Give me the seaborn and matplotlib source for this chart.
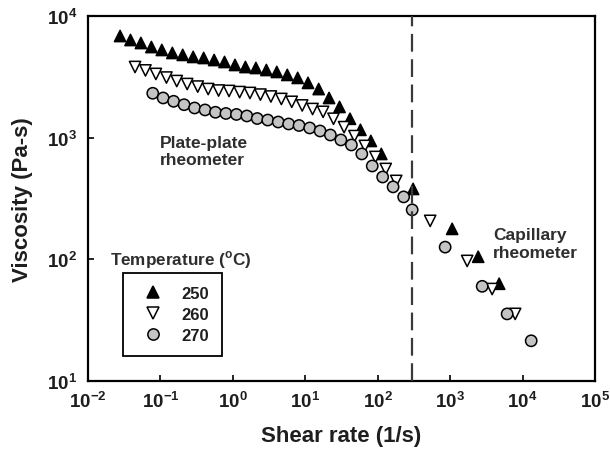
import pandas as pd
import matplotlib
matplotlib.use("Agg")
import matplotlib.pyplot as plt
import seaborn as sns

# shear rate (1/s) and viscosity (Pa-s), plate-plate points then capillary points
rate_250 = [0.0277, 0.0386, 0.0537, 0.0750, 0.1045, 0.146, 0.203, 0.283, 0.395, 0.551,
            0.767, 1.07, 1.49, 2.08, 2.90, 4.04, 5.64, 7.85, 10.9, 15.3,
            21.3, 29.7, 41.4, 57.7, 80.4, 112,
            308, 1066, 2440, 4750]
visc_250 = [6850, 6350, 6000, 5560, 5260, 4970, 4790, 4610, 4520, 4350,
            4190, 3960, 3810, 3740, 3600, 3470, 3280, 3100, 2820, 2510,
            2120, 1790, 1430, 1160, 940, 735,
            379, 178, 105, 63]

rate_260 = [0.0446, 0.0621, 0.0865, 0.121, 0.168, 0.234, 0.327, 0.456, 0.635, 0.885,
            1.24, 1.72, 2.40, 3.35, 4.67, 6.50, 9.06, 12.6, 17.6, 24.5,
            34.3, 47.7, 66.5, 92.9, 129, 180,
            530, 1718, 3800, 7900]
visc_260 = [3810, 3570, 3340, 3120, 2920, 2760, 2630, 2510, 2440, 2420,
            2370, 2330, 2260, 2180, 2080, 1970, 1840, 1720, 1630, 1430,
            1220, 1030, 855, 694, 553, 441,
            207, 97, 57, 35.6]

rate_270 = [0.0783, 0.109, 0.152, 0.212, 0.296, 0.413, 0.575, 0.802, 1.12, 1.56,
            2.17, 3.03, 4.23, 5.89, 8.20, 11.5, 16.0, 22.2, 31.0, 43.3,
            60.3, 84.0, 117, 163, 228,
            299, 853, 2770, 6120, 13150]
visc_270 = [2317, 2120, 1990, 1866, 1754, 1690, 1617, 1581, 1552, 1508,
            1437, 1396, 1345, 1296, 1259, 1202, 1135, 1052, 958, 871,
            735, 585, 475, 394, 326,
            255, 126, 60, 35.6, 21.4]

temps = ["250", "260", "270"]
boundary_rate = 300

df = pd.concat([
    pd.DataFrame({"rate": rate_250, "visc": visc_250, "temp": "250"}),
    pd.DataFrame({"rate": rate_260, "visc": visc_260, "temp": "260"}),
    pd.DataFrame({"rate": rate_270, "visc": visc_270, "temp": "270"}),
])

sns.set_theme(style="ticks")
plt.rcParams["font.family"] = ["Liberation Sans", "DejaVu Sans"]
plt.rcParams["font.weight"] = "bold"
plt.rcParams["axes.labelweight"] = "bold"
txt = "#1e1e1e"

fig = plt.figure(figsize=(6.1, 4.56), dpi=100)
ax = fig.add_axes([0.1443, 0.1623, 0.8311, 0.8004])

sns.scatterplot(data=df, x="rate", y="visc", hue="temp", style="temp",
                hue_order=temps, style_order=temps,
                markers={"250": "^", "260": "v", "270": "o"},
                palette={"250": "black", "260": "white", "270": "#c4c4c4"},
                s=66, edgecolor="black", linewidth=1.1, ax=ax, zorder=3)

ax.axvline(boundary_rate, color="#3a3a3a", lw=1.6, dashes=(8, 3.4), zorder=4)

ax.set_xscale("log")
ax.set_yscale("log")
ax.set_xlim(1e-2, 1e5)
ax.set_ylim(1e1, 1e4)
ax.set_xticks([10.0 ** k for k in range(-2, 6)])
ax.set_yticks([10.0 ** k for k in range(1, 5)])
ax.minorticks_off()
ax.tick_params(direction="in", length=4, width=1.2, top=False, right=False,
               labelsize=13.5, colors="black", labelcolor=txt)
ax.tick_params(axis="x", pad=7)
ax.tick_params(axis="y", pad=8)
for sp in ax.spines.values():
    sp.set_linewidth(1.6)
    sp.set_color("black")

ax.set_xlabel("Shear rate (1/s)", fontsize=16, color=txt, labelpad=10)
ax.set_ylabel("Viscosity (Pa-s)", fontsize=16, color=txt, labelpad=10)

ax.text(0.098, 780, "Plate-plate\nrheometer", fontsize=12.5, color="#2e2e2e",
        va="center", ha="left", linespacing=1.15)
ax.text(3900, 135, "Capillary\nrheometer", fontsize=12.5, color="#2e2e2e",
        va="center", ha="left", linespacing=1.2)
ax.text(0.0201, 100, r"Temperature ($^\mathdefault{o}$C)", fontsize=12.3,
        color="#2e2e2e", va="center", ha="left")

handles, labels = ax.get_legend_handles_labels()
leg = ax.legend(handles, labels, loc="lower left", bbox_to_anchor=(0.069, 0.068),
                borderaxespad=0, fontsize=12, frameon=True, fancybox=False,
                framealpha=1, edgecolor="black", handlelength=2.0,
                handletextpad=0.7, borderpad=0.8, labelspacing=0.35)
leg.get_frame().set_linewidth(1.3)
for t in leg.get_texts():
    t.set_color(txt)

fig.savefig("out.png", dpi=100)
